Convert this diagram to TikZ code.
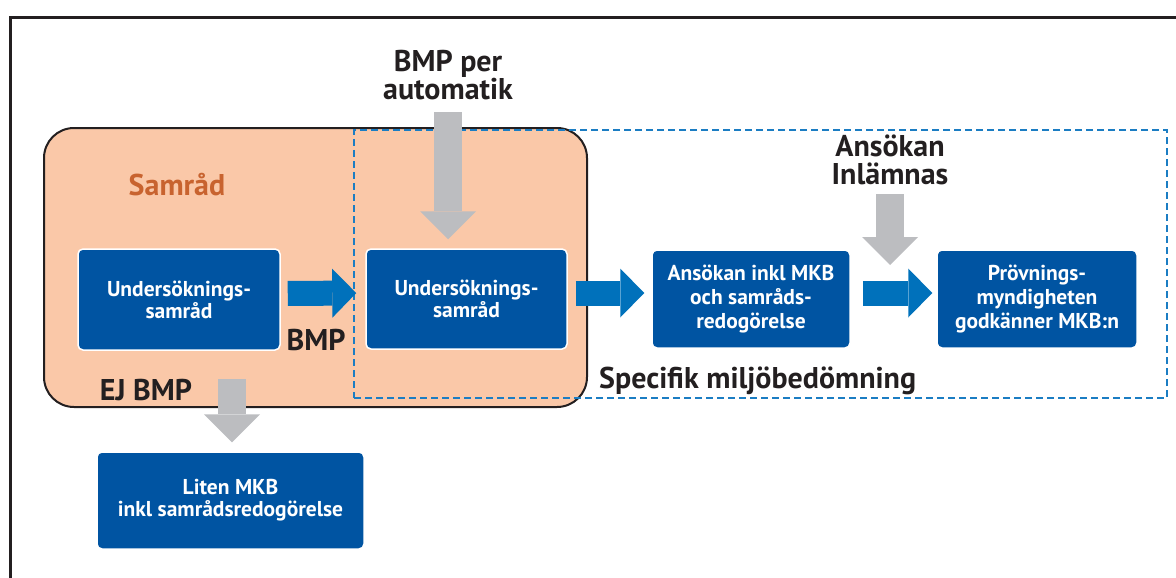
\documentclass[tikz,border=0pt]{standalone}
\usepackage{fontspec}
\setmainfont{PT Sans}
\usetikzlibrary{arrows.meta}
\definecolor{boxblue}{HTML}{0054A2}
\definecolor{arrowblue}{HTML}{0071BB}
\definecolor{dashblue}{HTML}{1B7DC3}
\definecolor{samradfill}{HTML}{FAC8A8}
\definecolor{samradtext}{HTML}{C8632F}
\definecolor{pilgray}{HTML}{BCBDC0}
\definecolor{textblack}{HTML}{231F20}
\begin{document}
\begin{tikzpicture}[x=1pt,y=-1pt,
  ruta/.style={draw=white,line width=1.5pt,fill=boxblue,rounded corners=5pt,text=white,align=center,
    font=\bfseries\fontsize{21.5}{22}\selectfont,inner sep=0pt},
  ruta3/.style={ruta,font=\bfseries\fontsize{21.5}{24}\selectfont},
  rubrik/.style={text=textblack,align=center,font=\bfseries\fontsize{30}{28}\selectfont,inner sep=0pt},
  blapil/.style={draw=arrowblue,line width=25pt,-{Triangle[length=24pt,width=49pt,line width=0pt]}},
  grapil/.style={draw=pilgray,line width=28pt,-{Triangle[length=28pt,width=56pt,line width=0pt]}}]
				\useasboundingbox (0,0) rectangle (1176,578);
				\clip (0,0) rectangle (1176,578);
				\draw[line width=3pt,textblack] (10.5,17.5) rectangle (1200,600);
				% samrad och specifik miljobedomning
				\node[draw=textblack,line width=2pt,fill=samradfill,rounded corners=30pt,
					minimum width=543pt,minimum height=279pt] (samrad) at (315.5,267.5) {};
				\node[draw=dashblue,line width=2.5pt,dash pattern=on 7pt off 4pt,
					minimum width=813pt,minimum height=268pt] (miljo) at (760.5,264) {};
				% rubriker
				\node[rubrik,text=samradtext] (samradlbl) at (177,185) {Samråd};
				\node[rubrik] (auto) at (448,75) {BMP per\\automatik};
				\node[rubrik] (inlamnas) at (890,160) {Ansökan\\Inlämnas};
				\node[rubrik] (bmp) at (316,340) {BMP};
				\node[rubrik] (ejbmp) at (146,390) {EJ BMP};
				\node[rubrik,anchor=base west] (miljolbl) at (599,388) {Specifik miljöbedömning};
				% rutor
				\node[ruta,minimum width=202pt,minimum height=101pt] (us1) at (179,299.5) {Undersöknings-\\samråd};
				\node[ruta,minimum width=201pt,minimum height=100pt] (us2) at (466.5,299) {Undersöknings-\\samråd};
				\node[ruta3,minimum width=198pt,minimum height=98pt] (ansokan) at (751,299) {Ansökan inkl MKB\\och samråds-\\redogörelse};
				\node[ruta3,minimum width=200pt,minimum height=98pt] (provning) at (1037,299) {Prövnings-\\myndigheten\\godkänner MKB:n};
				\node[ruta,minimum width=267pt,minimum height=97pt] (liten) at (230.5,500.5) {Liten MKB\\inkl samrådsredogörelse};
				\coordinate (ejstart) at (232,379);
				\coordinate (inltopp) at (890,265);
				% pilar
				\draw[grapil] ([yshift=-12pt]auto.south) -- ([yshift=9pt]auto.south |- us2.north);
				\draw[grapil] ([yshift=-9pt]inlamnas.south) -- (inltopp);
				\draw[grapil] (ejstart) -- ([yshift=9pt]ejstart |- liten.north);
				\draw[blapil,shorten <=7pt,shorten >=9pt] ([yshift=6pt]us1.east) -- ([yshift=6pt]us2.west);
				\draw[blapil,shorten <=8pt,shorten >=7pt] ([yshift=6pt]us2.east) -- ([yshift=6pt]ansokan.west);
				\draw[blapil,shorten <=12pt,shorten >=4pt] ([yshift=6pt]ansokan.east) -- ([yshift=6pt]provning.west);
			\end{tikzpicture}
\end{document}
